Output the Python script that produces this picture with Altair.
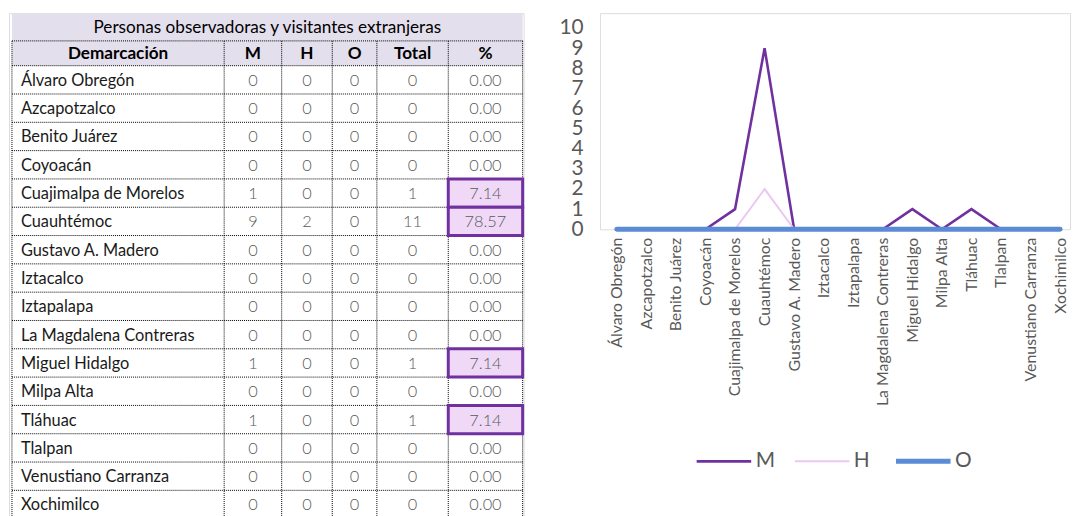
import altair as alt
import pandas as pd

# ---------------- data ----------------
table_title = "Personas observadoras y visitantes extranjeras"
header = ["Demarcación", "M", "H", "O", "Total", "%"]
demarcaciones = ["Álvaro Obregón", "Azcapotzalco", "Benito Juárez", "Coyoacán",
                 "Cuajimalpa de Morelos", "Cuauhtémoc", "Gustavo A. Madero", "Iztacalco",
                 "Iztapalapa", "La Magdalena Contreras", "Miguel Hidalgo", "Milpa Alta",
                 "Tláhuac", "Tlalpan", "Venustiano Carranza", "Xochimilco"]
m_vals = [0, 0, 0, 0, 1, 9, 0, 0, 0, 0, 1, 0, 1, 0, 0, 0]
h_vals = [0, 0, 0, 0, 0, 2, 0, 0, 0, 0, 0, 0, 0, 0, 0, 0]
o_vals = [0, 0, 0, 0, 0, 0, 0, 0, 0, 0, 0, 0, 0, 0, 0, 0]
total_vals = [0, 0, 0, 0, 1, 11, 0, 0, 0, 0, 1, 0, 1, 0, 0, 0]
pct_vals = [0.00, 0.00, 0.00, 0.00, 7.14, 78.57, 0.00, 0.00, 0.00, 0.00, 7.14, 0.00, 7.14, 0.00, 0.00, 0.00]
series = ["M", "H", "O"]
y_ticks = [0, 1, 2, 3, 4, 5, 6, 7, 8, 9, 10]

# ---------------- layout / styles ----------------
FONT = "Lato"
TW, TH = 519, 510
COL_EDGES = [3, 217, 275, 326, 371, 443, 518]
TITLE_TOP, HEADER_TOP, DATA_TOP, ROW_H = 0, 28, 53, 28.55
LAVENDER = "#E4DFEC"
HL_FILL = "#EFD9F7"
HL_STROKE = "#7030A0"
GRAY = "#595959"
SERIES_COLORS = ["#7030A0", "#EBC8F2", "#5A8BD4"]
SERIES_WIDTHS = [2.6, 2.0, 5.0]

xs = alt.Scale(domain=[0, TW], range=[0, TW], nice=False, zero=False)
ys = alt.Scale(domain=[0, TH], range=[0, TH], nice=False, zero=False)
noax = None


def row_top(k):
    return DATA_TOP + ROW_H * k


# fills for title and header
fills = pd.DataFrame({
    "x0": [COL_EDGES[0], COL_EDGES[0]],
    "x1": [COL_EDGES[-1], COL_EDGES[-1]],
    "y0": [TITLE_TOP, HEADER_TOP],
    "y1": [HEADER_TOP, DATA_TOP],
})
fill_layer = alt.Chart(fills).mark_rect(color=LAVENDER).encode(
    x=alt.X("x0:Q", scale=xs, axis=noax), x2="x1:Q",
    y=alt.Y("y0:Q", scale=ys, axis=noax), y2="y1:Q")

# dotted grid
nrows = len(demarcaciones)
hlines = pd.DataFrame({
    "y": [HEADER_TOP] + [row_top(k) for k in range(nrows + 1)],
    "x0": COL_EDGES[0], "x1": COL_EDGES[-1]})
vlines = pd.DataFrame({"x": COL_EDGES, "y0": HEADER_TOP, "y1": row_top(nrows)})
hgrid = alt.Chart(hlines).mark_rule(color="#000", strokeWidth=1, strokeDash=[1, 1]).encode(
    x=alt.X("x0:Q", scale=xs, axis=noax), x2="x1:Q", y=alt.Y("y:Q", scale=ys, axis=noax))
vgrid = alt.Chart(vlines).mark_rule(color="#000", strokeWidth=1, strokeDash=[1, 1]).encode(
    x=alt.X("x:Q", scale=xs, axis=noax), y=alt.Y("y0:Q", scale=ys, axis=noax), y2="y1:Q")

# highlighted % cells
hl = pd.DataFrame([{"x0": COL_EDGES[5], "x1": COL_EDGES[6], "y0": row_top(k), "y1": row_top(k + 1)}
                   for k, p in enumerate(pct_vals) if p > 0])
hl_layer = alt.Chart(hl).mark_rect(fill=HL_FILL, stroke=HL_STROKE, strokeWidth=3).encode(
    x=alt.X("x0:Q", scale=xs, axis=noax), x2="x1:Q",
    y=alt.Y("y0:Q", scale=ys, axis=noax), y2="y1:Q")

# texts
title_df = pd.DataFrame({"t": [table_title], "x": [(COL_EDGES[0] + COL_EDGES[-1]) / 2],
                         "y": [(TITLE_TOP + HEADER_TOP) / 2 + 1]})
title_layer = alt.Chart(title_df).mark_text(font=FONT, fontSize=17.3, color="#000", baseline="middle",
                                            align="center").encode(
    x=alt.X("x:Q", scale=xs, axis=noax), y=alt.Y("y:Q", scale=ys, axis=noax), text="t:N")

head_df = pd.DataFrame({"t": header,
                        "x": [(COL_EDGES[i] + COL_EDGES[i + 1]) / 2 for i in range(6)],
                        "y": [(HEADER_TOP + DATA_TOP) / 2 + 1] * 6})
head_layer = alt.Chart(head_df).mark_text(font=FONT, fontSize=17.3, fontWeight="bold", color="#000",
                                          baseline="middle", align="center").encode(
    x=alt.X("x:Q", scale=xs, axis=noax), y=alt.Y("y:Q", scale=ys, axis=noax), text="t:N")

name_df = pd.DataFrame({"t": demarcaciones, "x": COL_EDGES[0] + 9,
                        "y": [row_top(k) + ROW_H / 2 + 1 for k in range(nrows)]})
name_layer = alt.Chart(name_df).mark_text(font=FONT, fontSize=16.5, color="#1a1a1a",
                                          baseline="middle", align="left").encode(
    x=alt.X("x:Q", scale=xs, axis=noax), y=alt.Y("y:Q", scale=ys, axis=noax), text="t:N")

num_rows = []
for k in range(nrows):
    vals = [str(m_vals[k]), str(h_vals[k]), str(o_vals[k]), str(total_vals[k]), f"{pct_vals[k]:.2f}"]
    for c, v in enumerate(vals):
        num_rows.append({"t": v, "x": (COL_EDGES[c + 1] + COL_EDGES[c + 2]) / 2,
                         "y": row_top(k) + ROW_H / 2 + 1})
num_df = pd.DataFrame(num_rows)
num_layer = alt.Chart(num_df).mark_text(font=FONT, fontSize=16.5, fontWeight=300, color=GRAY,
                                        baseline="middle", align="center").encode(
    x=alt.X("x:Q", scale=xs, axis=noax), y=alt.Y("y:Q", scale=ys, axis=noax), text="t:N")

table = alt.layer(fill_layer, hgrid, vgrid, hl_layer, title_layer, head_layer, name_layer,
                  num_layer).properties(width=TW, height=TH)

# ---------------- line chart ----------------
long_rows = []
for s, vals in zip(series, [m_vals, h_vals, o_vals]):
    for i, (d, v) in enumerate(zip(demarcaciones, vals)):
        long_rows.append({"demarcacion": d, "serie": s, "valor": v, "idx": i})
ldf = pd.DataFrame(long_rows)

LW = 474
x_enc = alt.X("demarcacion:N", sort=demarcaciones,
              scale=alt.Scale(type="point", padding=0, range=[17, 464]),
              axis=alt.Axis(title=None, labelAngle=-90, labelFont=FONT, labelFontSize=16,
                            labelColor=GRAY, labelPadding=8, ticks=False, domainColor="#D9D9D9",
                            domainWidth=1.5, labelLimit=400, labelAlign="right",
                            labelBaseline="middle"))
y_enc = alt.Y("valor:Q", scale=alt.Scale(domain=[0, 10.74], nice=False, zero=True),
              axis=alt.Axis(title=None, values=y_ticks, labelFont=FONT, labelFontSize=21,
                            labelColor=GRAY, labelPadding=17, ticks=False, domain=False,
                            grid=False, labelOverlap=False, labelFlush=False))
width_expr = "(datum.value === 'O' ? %s : (datum.value === 'H' ? %s : %s))" % (
    SERIES_WIDTHS[2], SERIES_WIDTHS[1], SERIES_WIDTHS[0])
color_enc = alt.Color("serie:N", sort=series,
                      scale=alt.Scale(domain=series, range=SERIES_COLORS),
                      legend=alt.Legend(title=None, orient="none", direction="horizontal",
                                        legendX=96, legendY=423, symbolType="stroke",
                                        symbolSize=3025, labelFont=FONT, labelFontSize=21,
                                        labelColor=GRAY, labelOffset=3, columnPadding=15,
                                        gridAlign="none",
                                        symbolStrokeWidth={"expr": width_expr}))

line_layers = []
for s, w in zip(series, SERIES_WIDTHS):
    line_layers.append(
        alt.Chart(ldf).transform_filter(alt.datum.serie == s)
        .mark_line(strokeWidth=w, strokeCap="round", strokeJoin="miter")
        .encode(x=x_enc, y=y_enc, color=color_enc, order=alt.Order("idx:Q"))
    )
line = alt.layer(*line_layers).properties(width=LW, height=218)

chart = alt.hconcat(table, line, spacing=77, bounds="flush").properties(
    padding={"left": 0, "top": 2, "right": 0, "bottom": 0}
).resolve_scale(color="independent").configure_view(stroke=None).configure(font=FONT)

chart.save("out.html", embed_options={"renderer": "svg", "actions": False})
